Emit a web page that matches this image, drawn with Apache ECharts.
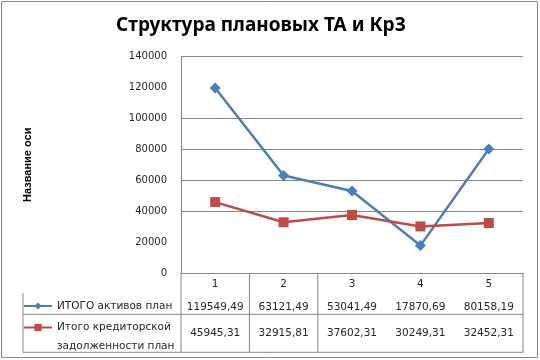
<!DOCTYPE html>
<html><head><meta charset="utf-8">
<script src="https://cdn.jsdelivr.net/npm/echarts@6/dist/echarts.min.js"></script>
<style>html,body{margin:0;padding:0;background:#fff}#c{width:540px;height:360px}</style>
</head><body><div id="c"></div>
<script>
const categories = ['1', '2', '3', '4', '5'];
const seriesNames = ['ИТОГО активов план', 'Итого кредиторской задолженности план'];
const assets = [119549.49, 63121.49, 53041.49, 17870.69, 80158.19];
const payables = [45945.31, 32915.81, 37602.31, 30249.31, 32452.31];
const yTicks = [0, 20000, 40000, 60000, 80000, 100000, 120000, 140000];

const fmt = v => v.toFixed(2).replace('.', ',');
const gridColor = '#868686';
const txt = '#262626';
const tf = 'DejaVu Sans';
const legendBase = {
  orient: 'vertical', left: 23, padding: 0, itemWidth: 28, itemHeight: 9,
  textStyle: { fontFamily: tf, fontSize: 10.5, color: txt, lineHeight: 18 }
};
const chart = echarts.init(document.getElementById('c'));
chart.setOption({
  animation: false,
  title: {
    text: 'Структура плановых ТА и КрЗ', left: 256, top: 11, textAlign: 'center',
    textStyle: { fontFamily: 'Noto Sans', fontWeight: 'bold', fontSize: 19, color: '#000' }
  },
  grid: { left: 181, right: 17, top: 56.3, bottom: 86.7, containLabel: false },
  xAxis: {
    type: 'category', data: categories, boundaryGap: true,
    axisLine: { lineStyle: { color: gridColor } },
    axisTick: { show: false },
    axisLabel: {
      margin: 0, interval: 0, color: txt, fontFamily: tf, fontSize: 10.5,
      formatter: (v, i) => '{h|' + v + '}\n{a|' + fmt(assets[i]) + '}\n{b|' + fmt(payables[i]) + '}',
      rich: {
        h: { lineHeight: 22, fontSize: 10.5, fontFamily: tf, color: txt },
        a: { lineHeight: 23, fontSize: 10.5, fontFamily: tf, color: txt },
        b: { lineHeight: 30, fontSize: 10.5, fontFamily: tf, color: txt }
      }
    }
  },
  yAxis: {
    type: 'value', min: yTicks[0], max: yTicks[yTicks.length - 1], interval: yTicks[1] - yTicks[0],
    name: 'Название оси', nameLocation: 'middle', nameGap: 148, nameRotate: 90,
    nameTextStyle: { fontFamily: 'Liberation Sans', fontWeight: 'bold', fontSize: 11, color: '#000' },
    axisLine: { show: true, lineStyle: { color: gridColor } },
    axisTick: { show: false },
    axisLabel: { margin: 14, color: txt, fontFamily: tf, fontSize: 10, formatter: v => String(v) },
    splitLine: { show: true, lineStyle: { width: 1, color: [gridColor, 'transparent', gridColor, gridColor, gridColor, gridColor, 'transparent', gridColor] } }
  },
  legend: [
    Object.assign({}, legendBase, { top: 297, data: [seriesNames[0]] }),
    Object.assign({}, legendBase, {
      top: 307.5, data: [seriesNames[1]],
      formatter: () => '{e| }\n{a|Итого кредиторской}\n{a|задолженности план}',
      textStyle: {
        fontFamily: tf, fontSize: 10.5, color: txt,
        rich: {
          e: { lineHeight: 19, fontSize: 2 },
          a: { lineHeight: 19, fontSize: 10.5, fontFamily: tf, color: txt }
        }
      }
    })
  ],
  series: [
    { name: seriesNames[0], type: 'line', data: assets, symbol: 'diamond', symbolSize: 11,
      lineStyle: { color: '#4A7EBB', width: 2.5 }, itemStyle: { color: '#4A7EBB' } },
    { name: seriesNames[1], type: 'line', data: payables, symbol: 'rect', symbolSize: 10,
      lineStyle: { color: '#BE4B48', width: 2.5 }, itemStyle: { color: '#BE4B48' } }
  ]
});

function drawTable() {
  const x0 = chart.convertToPixel({ xAxisIndex: 0 }, 0);
  const x1 = chart.convertToPixel({ xAxisIndex: 0 }, 1);
  const band = x1 - x0;
  const left = x0 - band / 2;
  const right = left + band * categories.length;
  const axisY = chart.convertToPixel({ yAxisIndex: 0 }, 0);
  const row2Top = axisY + 41;
  const bottom = axisY + 79;
  const legendLeft = 23;
  const ln = (a, b, c, d) => ({ type: 'line', shape: { x1: a, y1: b, x2: c, y2: d }, style: { stroke: gridColor, lineWidth: 1 } });
  const els = [
    ln(left, axisY, left, bottom),
    ln(left + band, axisY, left + band, bottom),
    ln(left + 2 * band, axisY, left + 2 * band, bottom),
    ln(right, axisY, right, bottom),
    ln(legendLeft, row2Top, right, row2Top),
    ln(legendLeft, bottom, right, bottom),
    ln(legendLeft, axisY + 20, legendLeft, bottom),
    { type: 'rect', shape: { x: 1.5, y: 1.5, width: 536, height: 356 }, style: { fill: 'none', stroke: gridColor, lineWidth: 1 } }
  ];
  chart.setOption({ graphic: els.map(e => Object.assign({ silent: true }, e)) });
}
drawTable();
</script>
</body></html>
